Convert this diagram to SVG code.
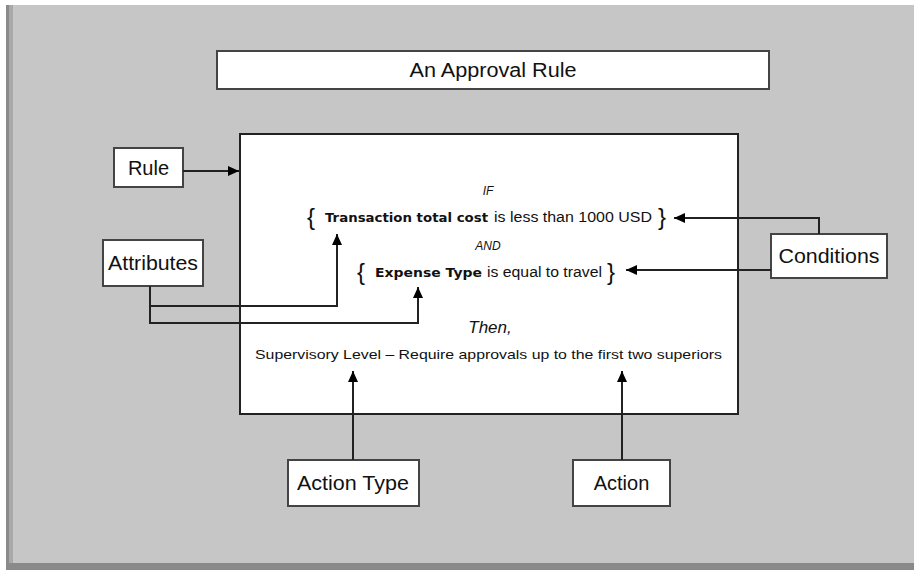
<svg xmlns="http://www.w3.org/2000/svg" width="914" height="570" viewBox="0 0 914 570">
<defs>
<marker id="ah" markerUnits="userSpaceOnUse" markerWidth="12" markerHeight="10" refX="11" refY="5" orient="auto">
<path d="M0,0 L11,5 L0,10 z" fill="#000"/>
</marker>
<style>
.box{fill:#fff;stroke:#444;stroke-width:2}
.lbl{font-family:"Liberation Sans",Arial,sans-serif;font-size:20px;fill:#111;text-anchor:middle}
.conn{fill:none;stroke:#222;stroke-width:2;marker-end:url(#ah)}
.t{font-family:"Liberation Sans",Arial,sans-serif;fill:#111}
.b{font-family:"DejaVu Sans",Verdana,sans-serif;font-weight:bold;fill:#111}
.it{font-family:"Liberation Sans",Arial,sans-serif;font-style:italic;fill:#111;text-anchor:middle}
.br{font-family:"Liberation Sans",Arial,sans-serif;font-size:24px;fill:#111}
</style>
</defs>
<rect x="0" y="0" width="914" height="570" fill="#fff"/>
<rect x="6" y="5" width="908" height="565" fill="#c6c6c6"/>
<rect x="6" y="5" width="3" height="565" fill="#8a8a8a"/>
<rect x="9" y="5" width="4" height="565" fill="#a9a9a9"/>
<rect x="6" y="563" width="908" height="7" fill="#8a8a8a"/>

<g id="title">
<rect class="box" x="217" y="51" width="552" height="38" stroke="#555" stroke-width="3"/>
<text class="lbl" x="493" y="77" textLength="167" lengthAdjust="spacingAndGlyphs">An Approval Rule</text>
</g>

<g id="rule-box">
<rect x="240" y="134" width="498" height="280" fill="#fff" stroke="#222" stroke-width="2"/>
<text class="it" x="488" y="195" font-size="12">IF</text>
<text class="br" x="307" y="225">{</text>
<text class="b" x="325" y="222" font-size="13" textLength="163" lengthAdjust="spacingAndGlyphs">Transaction total cost</text>
<text class="t" x="494" y="222" font-size="14" textLength="158" lengthAdjust="spacingAndGlyphs">is less than 1000 USD</text>
<text class="br" x="658" y="225">}</text>
<text class="it" x="488" y="250" font-size="12">AND</text>
<text class="br" x="357" y="280">{</text>
<text class="b" x="375" y="277" font-size="13" textLength="107" lengthAdjust="spacingAndGlyphs">Expense Type</text>
<text class="t" x="487" y="277" font-size="14" textLength="115" lengthAdjust="spacingAndGlyphs">is equal to travel</text>
<text class="br" x="607" y="280">}</text>
<text class="it" x="490" y="333" font-size="17">Then,</text>
<text class="t" x="255" y="359" font-size="13" textLength="467" lengthAdjust="spacingAndGlyphs">Supervisory Level – Require approvals up to the first two superiors</text>
</g>

<g id="rule">
<rect class="box" x="114" y="148" width="69" height="39"/>
<text class="lbl" x="148.5" y="175">Rule</text>
</g>

<g id="attributes">
<rect class="box" x="103" y="240" width="100" height="46"/>
<text class="lbl" x="153" y="270" textLength="90" lengthAdjust="spacingAndGlyphs">Attributes</text>
</g>

<g id="conditions">
<rect class="box" x="771" y="234" width="116" height="44"/>
<text class="lbl" x="829" y="263" textLength="101" lengthAdjust="spacingAndGlyphs">Conditions</text>
</g>

<g id="action-type">
<rect class="box" x="288" y="460" width="131" height="46"/>
<text class="lbl" x="353" y="490" textLength="112" lengthAdjust="spacingAndGlyphs">Action Type</text>
</g>

<g id="action">
<rect class="box" x="573" y="460" width="97" height="46"/>
<text class="lbl" x="621.5" y="490">Action</text>
</g>

<g id="connectors">
<path class="conn" d="M183,171 H239"/>
<path class="conn" d="M150,286 V306 H337 V234"/>
<path class="conn" d="M150,286 V323 H418 V287"/>
<path class="conn" d="M819,234 V218 H674"/>
<path class="conn" d="M771,270 H626"/>
<path class="conn" d="M353,460 V371"/>
<path class="conn" d="M622,460 V371"/>
</g>
</svg>
